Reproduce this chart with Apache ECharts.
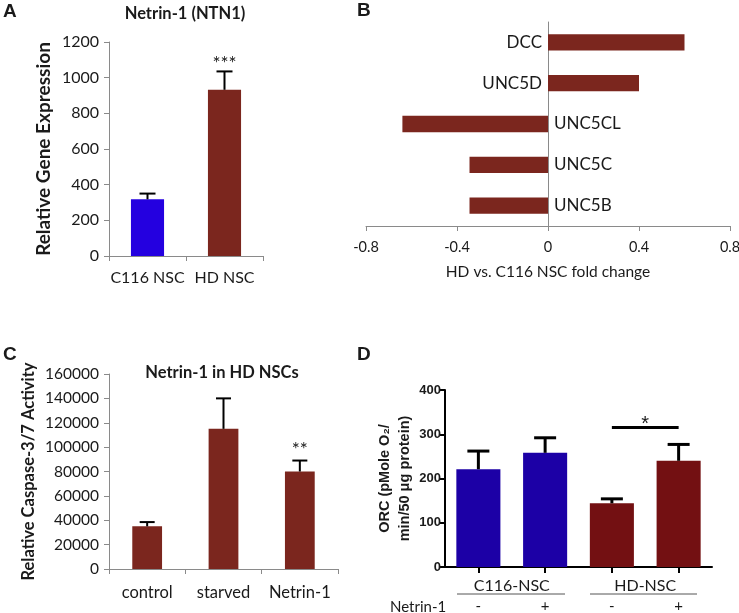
<!DOCTYPE html>
<html>
<head>
<meta charset="utf-8">
<title>Netrin-1 panels</title>
<script src="https://cdn.jsdelivr.net/npm/echarts@6/dist/echarts.min.js"></script>
<style>
html, body { margin: 0; padding: 0; background: #fff; }
#chart { width: 739px; height: 613px; }
</style>
</head>
<body>
<div id="chart"></div>
<script>
// A: Netrin-1 expression
const catsA = ['C116 NSC', 'HD NSC']
const valsA = [318, 932]
const errA = [32, 103]
const sigA = ['', '***']

// B: receptor fold change, HD vs. C116
const catsB = ['DCC', 'UNC5D', 'UNC5CL', 'UNC5C', 'UNC5B']
const valsB = [0.6, 0.4, -0.64, -0.345, -0.345]

// C: caspase-3/7 activity in HD NSCs
const catsC = ['control', 'starved', 'Netrin-1']
const valsC = [35000, 115000, 80000]
const errC = [3500, 25000, 9000]
const sigC = ['', '', '**']

// D: ORC
const groupsD = ['C116-NSC', 'HD-NSC']
const netrinD = ['-', '+', '-', '+']
const valsD = [221, 258, 144, 240]
const errD = [41, 34, 10, 37]
const sigLineD = 316

const FONT = 'Lato'
const ARIAL = 'Liberation Sans'
const INK = '#1a1a1a'
const GREY = '#8a8a8a'
const BROWN = '#7b261e'
const BLUE = '#2400e0'
const BLUE_D = '#1c00a6'
const RED_D = '#731012'

function errorBars(idx, vals, errs, sigs, cap, width, sigGap, sigFont) {
  return {
    type: 'custom',
    xAxisIndex: idx,
    yAxisIndex: idx,
    z: 5,
    data: vals.map((v, i) => [i, v, errs[i]]),
    renderItem(params, api) {
      const base = api.coord([api.value(0), api.value(1)])
      const top = api.coord([api.value(0), api.value(1) + api.value(2)])
      const children = [
        { type: 'line', shape: { x1: base[0], y1: base[1], x2: top[0], y2: top[1] }, style: { stroke: '#000', lineWidth: width } },
        { type: 'line', shape: { x1: top[0] - cap / 2, y1: top[1], x2: top[0] + cap / 2, y2: top[1] }, style: { stroke: '#000', lineWidth: width } },
      ]
      const s = sigs && sigs[params.dataIndex]
      if (s) {
        children.push({
          type: 'text',
          style: { text: s, x: top[0], y: top[1] - sigGap, align: 'center', verticalAlign: 'middle', font: sigFont, fill: INK },
        })
      }
      return { type: 'group', children }
    },
  }
}

function txt(text, x, y, font, align) {
  return { type: 'text', x, y, style: { text, font, fill: INK, align: align || 'left', verticalAlign: 'middle' } }
}

const plain = v => String(v)
const greyAxis = { show: true, lineStyle: { color: GREY, width: 1 } }
const greyTick = { show: true, length: 5, lineStyle: { color: GREY } }
const blackAxis = { show: true, lineStyle: { color: '#000', width: 2 } }
const blackTick = { show: true, length: 6, lineStyle: { color: '#000', width: 2 } }

const chart = echarts.init(document.getElementById('chart'))

chart.setOption({
  animation: false,
  backgroundColor: '#fff',
  grid: [
    { left: 109, top: 42, width: 154, height: 214, outerBoundsMode: 'none' },
    { left: 366, top: 22, width: 364, height: 204, outerBoundsMode: 'none' },
    { left: 109, top: 374, width: 229, height: 195, outerBoundsMode: 'none' },
    { left: 445, top: 390, width: 267, height: 177, outerBoundsMode: 'none' },
  ],
  xAxis: [
    {
      gridIndex: 0, type: 'category', data: catsA,
      axisLine: greyAxis, axisTick: greyTick,
      axisLabel: { interval: 0, hideOverlap: false, fontFamily: FONT, fontSize: 16, color: INK, margin: 14 },
    },
    {
      gridIndex: 1, type: 'value', min: -0.8, max: 0.8, interval: 0.4,
      axisLine: greyAxis, axisTick: greyTick, splitLine: { show: false },
      axisLabel: { fontFamily: FONT, fontSize: 14.5, color: INK, margin: 14 },
      name: 'HD vs. C116 NSC fold change', nameLocation: 'middle', nameGap: 38,
      nameTextStyle: { fontFamily: FONT, fontSize: 15.5, color: INK },
    },
    {
      gridIndex: 2, type: 'category', data: catsC,
      axisLine: greyAxis, axisTick: greyTick,
      axisLabel: { interval: 0, hideOverlap: false, fontFamily: FONT, fontSize: 16.5, color: INK, margin: 15 },
    },
    {
      gridIndex: 3, type: 'category', data: netrinD,
      axisLine: blackAxis, axisTick: Object.assign({ alignWithLabel: true }, blackTick),
      axisLabel: { interval: 0, fontFamily: FONT, fontSize: 15, color: INK, margin: 32 },
    },
    {
      gridIndex: 3, type: 'category', data: groupsD, position: 'bottom',
      axisLine: { show: false }, axisTick: { show: false },
      axisLabel: { interval: 0, fontFamily: FONT, fontSize: 16, color: INK, margin: 11 },
    },
  ],
  yAxis: [
    {
      gridIndex: 0, type: 'value', min: 0, max: 1200, interval: 200,
      axisLine: greyAxis, axisTick: greyTick, splitLine: { show: false },
      axisLabel: { formatter: plain, fontFamily: FONT, fontSize: 16, color: INK, margin: 10 },
      name: 'Relative Gene Expression', nameLocation: 'middle', nameGap: 56,
      nameTextStyle: { fontFamily: FONT, fontSize: 19, fontWeight: 'bold', color: INK },
    },
    {
      gridIndex: 1, type: 'category', data: catsB, inverse: true,
      axisLine: { show: true, onZero: true, lineStyle: { color: GREY } },
      axisTick: { show: false }, axisLabel: { show: false },
    },
    {
      gridIndex: 2, type: 'value', min: 0, max: 160000, interval: 20000,
      axisLine: greyAxis, axisTick: greyTick, splitLine: { show: false },
      axisLabel: { formatter: plain, fontFamily: FONT, fontSize: 15.5, color: INK, margin: 10 },
      name: 'Relative Caspase-3/7 Activity', nameLocation: 'middle', nameGap: 72,
      nameTextStyle: { fontFamily: FONT, fontSize: 16.5, fontWeight: 'bold', color: INK },
    },
    {
      gridIndex: 3, type: 'value', min: 0, max: 400, interval: 100,
      axisLine: blackAxis, axisTick: blackTick, splitLine: { show: false },
      axisLabel: { fontFamily: ARIAL, fontSize: 13, fontWeight: 'bold', color: INK, margin: 4 },
      name: 'ORC (pMole O₂/\nmin/50 μg protein)', nameLocation: 'middle', nameGap: 30,
      nameTextStyle: { fontFamily: ARIAL, fontSize: 14.5, fontWeight: 'bold', color: INK, lineHeight: 20 },
    },
  ],
  series: [
    {
      type: 'bar', xAxisIndex: 0, yAxisIndex: 0, data: valsA, barWidth: '43%',
      itemStyle: { color: p => (p.dataIndex === 0 ? BLUE : BROWN) },
    },
    errorBars(0, valsA, errA, sigA, 16, 2, 8, '19px ' + FONT),
    {
      type: 'bar', xAxisIndex: 1, yAxisIndex: 1, barWidth: '40%',
      itemStyle: { color: BROWN },
      data: valsB.map(v => ({
        value: v,
        label: { show: true, position: v >= 0 ? 'left' : 'right', distance: 6 },
      })),
      label: { formatter: '{b}', fontFamily: FONT, fontSize: 17, color: INK },
    },
    {
      type: 'bar', xAxisIndex: 2, yAxisIndex: 2, data: valsC, barWidth: '39%',
      itemStyle: { color: BROWN },
    },
    errorBars(2, valsC, errC, sigC, 15, 2, 11, '19px ' + FONT),
    {
      type: 'bar', xAxisIndex: 3, yAxisIndex: 3, data: valsD, barWidth: '66%',
      itemStyle: { color: p => (p.dataIndex < 2 ? BLUE_D : RED_D) },
      markLine: {
        silent: true, symbol: 'none',
        lineStyle: { color: '#000', width: 3, type: 'solid' },
        label: { formatter: '*', position: 'middle', fontFamily: ARIAL, fontSize: 20, color: INK, distance: -7 },
        data: [[{ coord: [2, sigLineD] }, { coord: [3, sigLineD] }]],
      },
    },
    errorBars(3, valsD, errD, null, 22, 3, 0, ''),
  ],
  graphic: [
    txt('A', 3, 12, 'bold 19px ' + ARIAL),
    txt('B', 357, 11, 'bold 19px ' + ARIAL),
    txt('C', 3, 355, 'bold 19px ' + ARIAL),
    txt('D', 357, 355, 'bold 19px ' + ARIAL),
    txt('Netrin-1 (NTN1)', 185, 14, 'bold 16.5px ' + FONT, 'center'),
    txt('Netrin-1 in HD NSCs', 222, 373, 'bold 16.5px ' + FONT, 'center'),
    txt('Netrin-1', 390, 607, '15px ' + FONT),
    { type: 'line', shape: { x1: 457, y1: 594, x2: 565, y2: 594 }, style: { stroke: '#555', lineWidth: 1 } },
    { type: 'line', shape: { x1: 590, y1: 594, x2: 697, y2: 594 }, style: { stroke: '#555', lineWidth: 1 } },
  ],
})
</script>
</body>
</html>
